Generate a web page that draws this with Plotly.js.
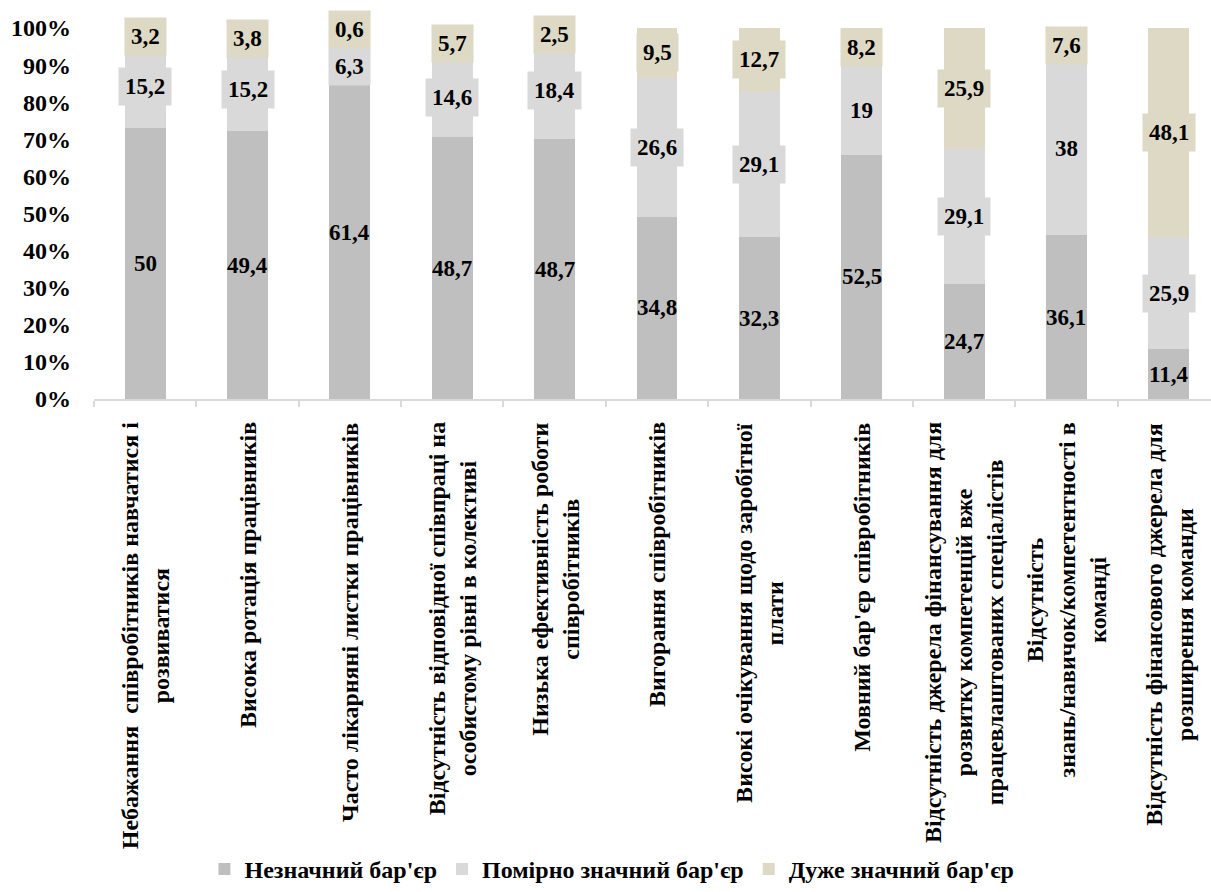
<!DOCTYPE html>
<html>
<head>
<meta charset="utf-8">
<script src="https://cdn.plot.ly/plotly-3.0.1.min.js"></script>
<style>
html, body { margin: 0; padding: 0; background: #ffffff; overflow: hidden; }
#chart { width: 1220px; height: 892px; }
</style>
</head>
<body>
<div id="chart"></div>
<script>
const categories = [
  "Небажання  співробітників навчатися і<br>розвиватися",
  "Висока ротація працівників",
  "Часто лікарняні листки працівників",
  "Відсутність відповідної співпраці на<br>особистому рівні в колективі",
  "Низька ефективність роботи<br>співробітників",
  "Вигорання співробітників",
  "Високі очікування щодо заробітної<br>плати",
  "Мовний бар'єр співробітників",
  "Відсутність джерела фінансування для<br>розвитку компетенцій вже<br>працевлаштованих спеціалістів",
  "Відсутність<br>знань/навичок/компетентності в<br>команді",
  "Відсутність фінансового джерела для<br>розширення команди"
];
const seriesNames = ["Незначний бар'єр", "Помірно значний бар'єр", "Дуже значний бар'єр"];
const insignificant = [50, 49.4, 61.4, 48.7, 48.7, 34.8, 32.3, 52.5, 24.7, 36.1, 11.4];
const moderate      = [15.2, 15.2, 6.3, 14.6, 18.4, 26.6, 29.1, 19, 29.1, 38, 25.9];
const significant   = [3.2, 3.8, 0.6, 5.7, 2.5, 9.5, 12.7, 8.2, 25.9, 7.6, 48.1];
const yTickVals = [0, 10, 20, 30, 40, 50, 60, 70, 80, 90, 100];

const colors = ["#bfbfbf", "#d9d9d9", "#ddd9c4"];
const labelBg = ["rgba(0,0,0,0)", "#d9d9d9", "#ddd9c4"];
const FONT = "'Times New Roman', 'Liberation Serif', serif";
const xKeys = categories.map(c => c.replace(/<br>/g, " "));
const allSeries = [insignificant, moderate, significant];

const traces = allSeries.map((vals, s) => ({
  type: "bar",
  name: seriesNames[s],
  x: xKeys,
  y: vals,
  marker: { color: colors[s], line: { width: 0 } },
  hoverinfo: "none"
}));

const PLOT_H = 372;
const MIN_GAP = 37;
const annotations = [];
xKeys.forEach((key, i) => {
  const total = allSeries.reduce((a, ser) => a + ser[i], 0);
  let cum = 0;
  const centers = allSeries.map(ser => {
    const v = ser[i];
    const c = (cum + v / 2) / total * 100;
    cum += v;
    return c;
  });
  const shifts = [0, 0, 0];
  let prevPx = null;
  for (let s = 2; s >= 0; s--) {
    let px = centers[s] / 100 * PLOT_H;
    if (prevPx !== null && prevPx - px < MIN_GAP) {
      shifts[s] = (prevPx - MIN_GAP) - px;
      px = prevPx - MIN_GAP;
    }
    prevPx = px;
  }
  allSeries.forEach((ser, s) => {
    annotations.push({
      x: key, y: centers[s], xref: "x", yref: "y",
      yshift: shifts[s],
      text: "<b>" + String(ser[i]).replace(".", ",") + "</b>",
      showarrow: false,
      font: { family: FONT, size: 23, color: "#000000" },
      bgcolor: labelBg[s],
      borderpad: 6,
      xanchor: "center", yanchor: "middle"
    });
  });
  annotations.push({
    x: key, y: -0.058, xref: "x", yref: "paper",
    text: "<b>" + categories[i] + "</b>",
    textangle: -90,
    showarrow: false,
    align: "center",
    font: { family: FONT, size: 24, color: "#000000" },
    xanchor: "center", yanchor: "top"
  });
});

const layout = {
  width: 1220, height: 892,
  margin: { l: 94, r: 0, t: 28, b: 492 },
  font: { family: FONT, color: "#000000" },
  paper_bgcolor: "#ffffff", plot_bgcolor: "#ffffff",
  barmode: "stack",
  barnorm: "percent",
  bargap: 0.6,
  showlegend: true,
  legend: {
    orientation: "h", x: 0.46, xanchor: "center", y: -1.268, yanchor: "middle",
    font: { family: FONT, size: 24, color: "#000000", weight: "bold" },
    itemwidth: 30, traceorder: "normal", borderwidth: 0
  },
  xaxis: {
    type: "category",
    showticklabels: false,
    showline: true, linecolor: "#d9d9d9", linewidth: 2,
    ticks: "outside", tickson: "boundaries", ticklen: 6, tickcolor: "#d9d9d9", tickwidth: 2,
    showgrid: false, zeroline: false, fixedrange: true
  },
  yaxis: {
    range: [0, 100],
    tickvals: yTickVals,
    ticktext: yTickVals.map(v => "<b>" + v + "%</b>"),
    tickfont: { family: FONT, size: 24, color: "#000000" },
    ticklabelstandoff: 22,
    showline: false, showgrid: false, zeroline: false, ticks: "", fixedrange: true
  },
  annotations: annotations
};

Plotly.newPlot("chart", traces, layout, { staticPlot: true, displayModeBar: false });
</script>
</body>
</html>
